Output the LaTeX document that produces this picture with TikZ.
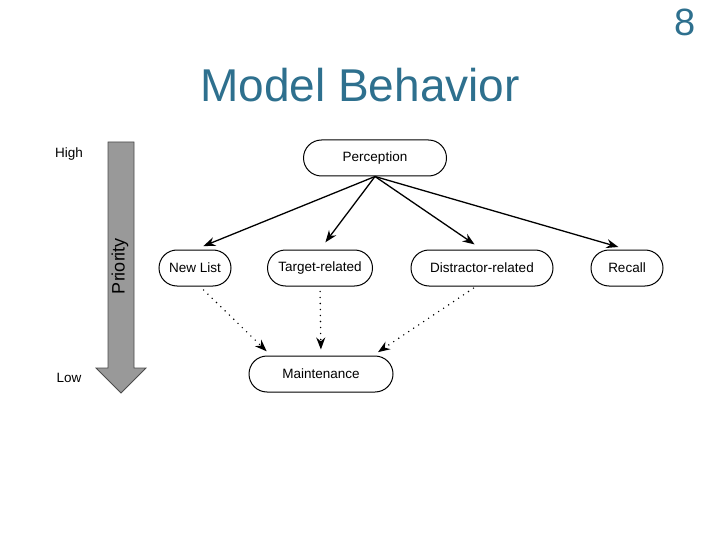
\documentclass[tikz,border=0pt]{standalone}
\usepackage{fontspec}
\setmainfont{Liberation Sans}
\usepackage{tikz}
\usetikzlibrary{positioning,arrows.meta}
\usepackage{xcolor}
\definecolor{titleblue}{RGB}{46,112,142}

\begin{document}
\begin{tikzpicture}[x=1pt,y=-1pt,>={Stealth[length=12pt,width=9pt]},
  box/.style={draw,line width=1pt,rounded corners=18pt,minimum height=36pt,font=\fontsize{13.5}{16}\selectfont},
  dots/.style={line width=1.6pt,dash pattern=on 0pt off 6pt,line cap=round}]
\useasboundingbox (0,0) rectangle (720,540);
\node[text=titleblue,font=\fontsize{38}{40}\selectfont] (pg) at (685,22) {8};
\node[text=titleblue,font=\fontsize{46}{50}\selectfont] (title) at (360,85) {Model Behavior};
% priority arrow
\draw[fill=black!40,draw=black!70,line width=0.8pt] (108,142) -- (134,142) -- (134,368) -- (146,368) -- (121,393) -- (96,368) -- (108,368) -- cycle;
\node[rotate=90,font=\fontsize{18}{20}\selectfont] (prio) at (120,266) {Priority};
\node[font=\fontsize{13.5}{16}\selectfont] (hi) at (69,154) {High};
\node[font=\fontsize{13.5}{16}\selectfont] (lo) at (69,378) {Low};
% nodes
\node[box,minimum width=143pt] (per) at (375,158) {Perception};
\node[box,minimum width=72pt] (nl) at (195,268) {New List};
\node[box,minimum width=105pt] (tr) at (320,268) {Target-related};
\node[box,minimum width=142pt] (dr) at (482,268) {Distractor-related};
\node[box,minimum width=72pt] (rc) at (627,268) {Recall};
\node[box,minimum width=144pt] (mt) at (321,374) {Maintenance};
% arrows
\foreach \n in {nl,tr,dr,rc}
  \draw[->,line width=1.3pt,shorten >=9pt] (per.south) -- (\n.north);
\draw[->,dots,shorten <=5pt,shorten >=6pt] ([xshift=5pt]nl.south) -- ([xshift=-50pt]mt.north);
\draw[->,dots,shorten <=5pt,shorten >=6pt] (tr.south) -- (mt.north);
\draw[->,dots,shorten <=3pt,shorten >=6pt] ([xshift=-6pt]dr.south) -- ([xshift=52pt]mt.north);
\end{tikzpicture}
\end{document}
